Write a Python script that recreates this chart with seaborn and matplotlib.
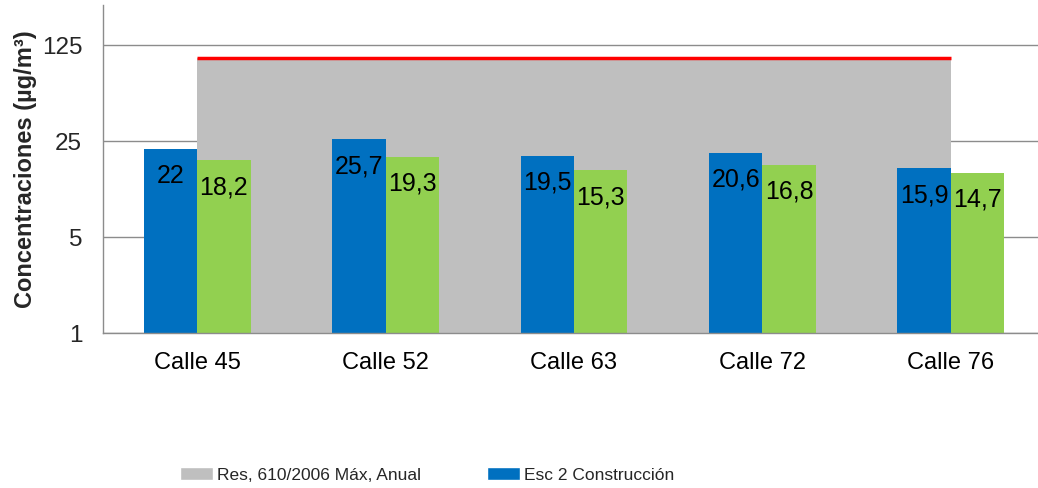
import matplotlib
matplotlib.use("Agg")
import matplotlib.pyplot as plt
import pandas as pd
import seaborn as sns
from matplotlib.patches import Patch

# --- data ---
categories = ["Calle 45", "Calle 52", "Calle 63", "Calle 72", "Calle 76"]
esc2_construccion = [22.0, 25.7, 19.5, 20.6, 15.9]
serie_verde = [18.2, 19.3, 15.3, 16.8, 14.7]
limite_anual = [100, 100, 100, 100, 100]
y_ticks = [1, 5, 25, 125]
y_tick_labels = ["1", "5", "25", "125"]

BLUE = "#0070C0"
GREEN = "#92D050"
GRAY = "#BFBFBF"
RED = "#FF0000"
GRID = "#8C8C8C"

sns.set_theme(style="white")
plt.rcParams["font.family"] = ["Liberation Sans", "DejaVu Sans"]

df = pd.DataFrame({
    "categoria": categories * 2,
    "valor": esc2_construccion + serie_verde,
    "serie": ["Esc 2 Construcción"] * len(categories) + ["Otro"] * len(categories),
})

fig = plt.figure(figsize=(10.38, 4.88), dpi=100)
ax = fig.add_axes([103 / 1038, 1 - 333 / 488, 942 / 1038, 328 / 488])

sns.barplot(data=df, x="categoria", y="valor", hue="serie",
            palette=[BLUE, GREEN], width=0.566, gap=0, saturation=1,
            legend=False, ax=ax, zorder=2, linewidth=0, edgecolor="none")

# annual limit shown as a gray area with a red top edge
xs = list(range(len(categories)))
ax.fill_between(xs, limite_anual, 0.001, color=GRAY, linewidth=0, zorder=0.8)
ax.plot(xs, limite_anual, color=RED, linewidth=2.5, zorder=0.9, solid_capstyle="butt")

ax.set_yscale("log", base=5)
ax.set_ylim(1, 245)
ax.set_xlim(-0.5, len(categories) - 0.5)
ax.set_yticks(y_ticks)
ax.set_yticklabels(y_tick_labels)
ax.minorticks_off()
ax.set_xticks([x - 0.5 for x in range(len(categories) + 1)], minor=True)
ax.tick_params(axis="x", which="major", length=0, labelsize=17, pad=14, colors="black")
ax.tick_params(axis="x", which="minor", length=5, width=1, color=GRID, direction="out")
ax.tick_params(axis="y", length=6, width=1, color=GRID, direction="out", labelsize=17.5, pad=9)
ax.set_xlabel("")
ax.set_ylabel("Concentraciones (µg/m³)", fontsize=17, fontweight="bold", labelpad=3)

ax.set_axisbelow(True)
ax.yaxis.grid(True, color=GRID, linewidth=1)
for side in ["top", "right"]:
    ax.spines[side].set_visible(False)
for side in ["left", "bottom"]:
    ax.spines[side].set_color(GRID)
    ax.spines[side].set_linewidth(1)

# value labels inside the top of each bar
for patch in ax.patches:
    h = patch.get_height()
    if h <= 0:
        continue
    txt = f"{h:.1f}".replace(".", ",")
    if txt.endswith(",0"):
        txt = txt[:-2]
    ax.annotate(txt, (patch.get_x() + patch.get_width() / 2, h),
                xytext=(0, -19.5), textcoords="offset points",
                ha="center", va="center", fontsize=18, color="black", zorder=3)

handles = [Patch(facecolor=GRAY, label="Res, 610/2006 Máx, Anual"),
           Patch(facecolor=BLUE, label="Esc 2 Construcción")]
fig.legend(handles=handles, loc="center left", bbox_to_anchor=(164 / 1038, 1 - 475 / 488),
           ncol=2, frameon=False, handlelength=1.9, handleheight=0.8,
           handletextpad=0.25, columnspacing=3.8,
           prop={"family": "Liberation Sans", "size": 12.5})

fig.savefig("out.png", dpi=100)
